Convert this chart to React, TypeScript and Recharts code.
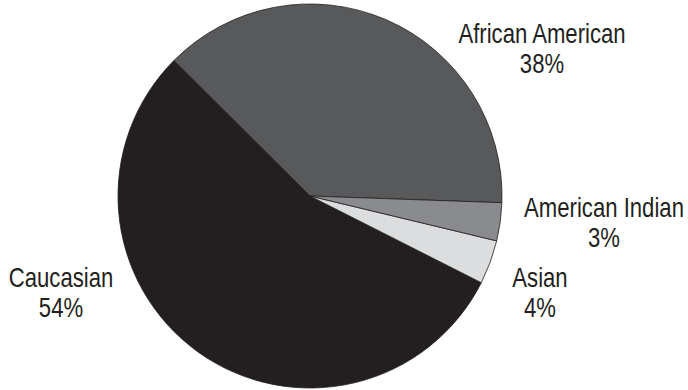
import React from "react";
import { PieChart, Pie, Cell } from "recharts";

const categories = ["African American", "Caucasian", "Asian", "American Indian"];
const values = [38.1, 55.0, 3.7, 3.2];
const percentLabels = ["38%", "54%", "4%", "3%"];

const colors = ["#58595b", "#231f20", "#dcdddf", "#898b8e"];

// label layout (text center x, first-line baseline y), in chart pixels
const labelLayout: Record<string, { x: number; y: number }> = {
  "African American": { x: 542, y: 43 },
  Caucasian: { x: 61, y: 287 },
  Asian: { x: 540, y: 287 },
  "American Indian": { x: 604, y: 217 },
};

const data = categories.map((name, i) => ({
  name,
  value: values[i],
  pct: percentLabels[i],
}));

const FONT = "'Liberation Sans', Arial, sans-serif";

const renderLabel = (props: any) => {
  const name = props.name ?? props.payload?.name;
  const idx = categories.indexOf(name);
  const pos = labelLayout[name];
  if (!pos) return null;
  return (
    <g transform={`translate(${pos.x},${pos.y}) scale(0.82,1)`}>
      <text x={0} y={0} textAnchor="middle" fontFamily={FONT} fontSize={27} fill="#231f20">
        {name}
      </text>
      <text x={0} y={30} textAnchor="middle" fontFamily={FONT} fontSize={27} fill="#231f20">
        {percentLabels[idx]}
      </text>
    </g>
  );
};

export default function App() {
  return (
    <div style={{ position: "absolute", left: 0, top: 0, width: 688, height: 390, background: "#fff" }}>
      <PieChart width={688} height={390} margin={{ top: 0, right: 0, bottom: 0, left: 0 }}>
        <Pie
          data={data}
          dataKey="value"
          nameKey="name"
          cx={310}
          cy={196}
          outerRadius={192}
          innerRadius={0}
          startAngle={-2}
          endAngle={358}
          stroke="#231f20"
          strokeWidth={0.8}
          label={renderLabel}
          labelLine={false}
          isAnimationActive={false}
        >
          {data.map((d, i) => (
            <Cell key={d.name} fill={colors[i]} />
          ))}
        </Pie>
      </PieChart>
    </div>
  );
}
